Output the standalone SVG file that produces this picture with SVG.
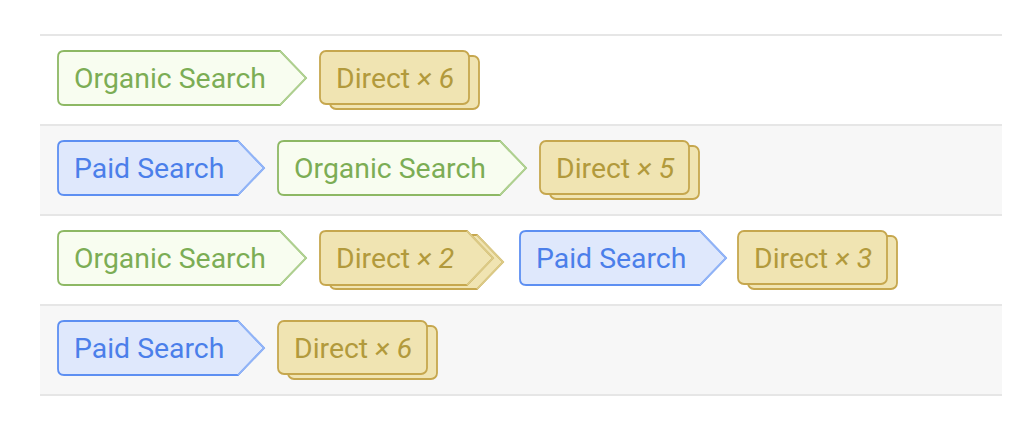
<svg xmlns="http://www.w3.org/2000/svg" width="1022" height="428" viewBox="0 0 1022 428">
<style>
.txt{font-family:Roboto,"Liberation Sans",sans-serif;font-size:28.4px}
.org path{fill:#f8fdf0;stroke:#8db864;stroke-width:1.8}
.org .tip{fill:none;stroke:#b0d192}
.org text{fill:#7cad55}
.paid path{fill:#dfe8fc;stroke:#5d8ff2;stroke-width:1.8}
.paid .tip{fill:none;stroke:#93b5f7}
.paid text{fill:#4b7fea}
.dir rect,.dir path{fill:#f0e4b2;stroke:#c6a74e;stroke-width:1.8}
.dir .tip{fill:none;stroke:#dccb88}
.dir text{fill:#b29a3c}
.it{font-style:italic}
.sep{stroke:#e6e6e6;stroke-width:2}
</style>
<g id="rows">
<rect x="40" y="126" width="962" height="89" fill="#f7f7f7"/>
<rect x="40" y="306" width="962" height="89" fill="#f7f7f7"/>
<line class="sep" x1="40" y1="35" x2="1002" y2="35"/>
<line class="sep" x1="40" y1="125" x2="1002" y2="125"/>
<line class="sep" x1="40" y1="215" x2="1002" y2="215"/>
<line class="sep" x1="40" y1="305" x2="1002" y2="305"/>
<line class="sep" x1="40" y1="395" x2="1002" y2="395"/>
</g>
<g id="connectors"></g>
<!-- Row 1 -->
<g id="r1-organic" class="org">
<path d="M64,51 H280 L306,78 L280,105 H64 Q58,105 58,99 V57 Q58,51 64,51 Z"/>
<path class="tip" d="M280,51 L306,78 L280,105"/>
<text class="txt" x="74" y="88">Organic Search</text>
</g>
<g id="r1-direct" class="dir">
<rect x="330" y="56" width="149" height="53" rx="6"/>
<rect x="320" y="51" width="149" height="53" rx="6"/>
<text class="txt" x="336" y="88">Direct<tspan class="it"> × 6</tspan></text>
</g>
<!-- Row 2 -->
<g id="r2-paid" class="paid">
<path d="M64,141 H238 L264,168 L238,195 H64 Q58,195 58,189 V147 Q58,141 64,141 Z"/>
<path class="tip" d="M238,141 L264,168 L238,195"/>
<text class="txt" x="74" y="178">Paid Search</text>
</g>
<g id="r2-organic" class="org">
<path d="M284,141 H500 L526,168 L500,195 H284 Q278,195 278,189 V147 Q278,141 284,141 Z"/>
<path class="tip" d="M500,141 L526,168 L500,195"/>
<text class="txt" x="294" y="178">Organic Search</text>
</g>
<g id="r2-direct" class="dir">
<rect x="550" y="146" width="149" height="53" rx="6"/>
<rect x="540" y="141" width="149" height="53" rx="6"/>
<text class="txt" x="556" y="178">Direct<tspan class="it"> × 5</tspan></text>
</g>
<!-- Row 3 -->
<g id="r3-organic" class="org">
<path d="M64,231 H280 L306,258 L280,285 H64 Q58,285 58,279 V237 Q58,231 64,231 Z"/>
<path class="tip" d="M280,231 L306,258 L280,285"/>
<text class="txt" x="74" y="268">Organic Search</text>
</g>
<g id="r3-direct" class="dir">
<path d="M336,235 H477 L503,262 L477,289 H336 Q330,289 330,283 V241 Q330,235 336,235 Z"/>
<path class="tip" d="M477,235 L503,262 L477,289"/>
<path d="M326,231 H467 L493,258 L467,285 H326 Q320,285 320,279 V237 Q320,231 326,231 Z"/>
<path class="tip" d="M467,231 L493,258 L467,285"/>
<text class="txt" x="336" y="268">Direct<tspan class="it"> × 2</tspan></text>
</g>
<g id="r3-paid" class="paid">
<path d="M526,231 H700 L726,258 L700,285 H526 Q520,285 520,279 V237 Q520,231 526,231 Z"/>
<path class="tip" d="M700,231 L726,258 L700,285"/>
<text class="txt" x="536" y="268">Paid Search</text>
</g>
<g id="r3-direct2" class="dir">
<rect x="748" y="236" width="149" height="53" rx="6"/>
<rect x="738" y="231" width="149" height="53" rx="6"/>
<text class="txt" x="754" y="268">Direct<tspan class="it"> × 3</tspan></text>
</g>
<!-- Row 4 -->
<g id="r4-paid" class="paid">
<path d="M64,321 H238 L264,348 L238,375 H64 Q58,375 58,369 V327 Q58,321 64,321 Z"/>
<path class="tip" d="M238,321 L264,348 L238,375"/>
<text class="txt" x="74" y="358">Paid Search</text>
</g>
<g id="r4-direct" class="dir">
<rect x="288" y="326" width="149" height="53" rx="6"/>
<rect x="278" y="321" width="149" height="53" rx="6"/>
<text class="txt" x="294" y="358">Direct<tspan class="it"> × 6</tspan></text>
</g>
</svg>
